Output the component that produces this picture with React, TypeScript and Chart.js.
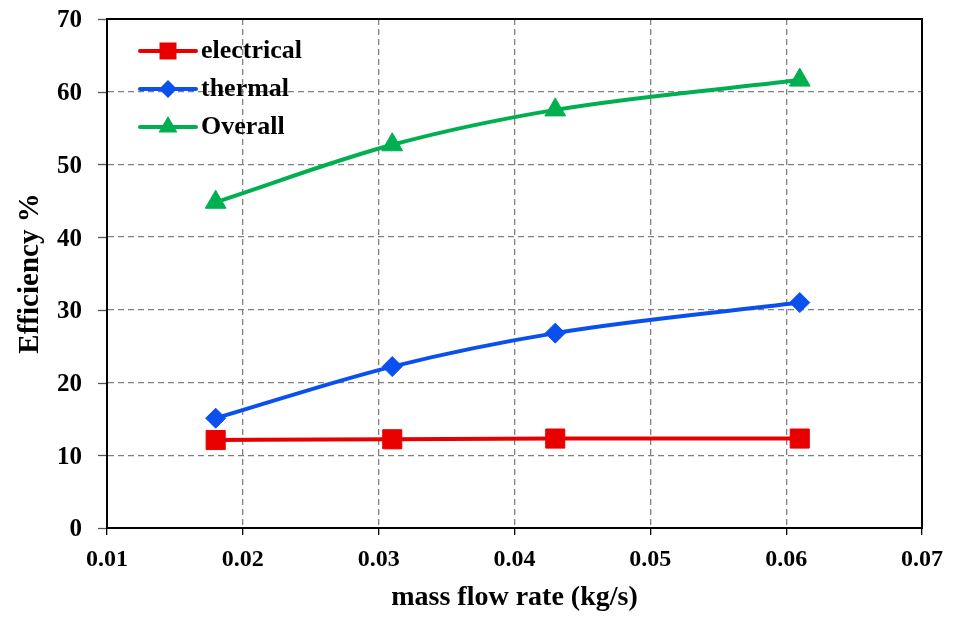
import React, { useEffect, useRef } from "react";
import { Chart, registerables } from "chart.js";

Chart.register(...registerables);

const flowRates = [0.018, 0.031, 0.043, 0.061];
const electrical = [12.1, 12.2, 12.3, 12.3];
const thermal = [15.1, 22.2, 26.8, 31.0];
const overall = [44.8, 52.7, 57.5, 61.6];
const seriesNames = ["electrical", "thermal", "Overall"];
const seriesColors = ["#E80000", "#0A50EE", "#00B050"];
const seriesMarkers = ["rect", "rectRot", "triangle"];
const markerRadii = [13.5, 10, 12];

const FONT = "'Liberation Serif', 'Times New Roman', serif";

function drawMarker(ctx: CanvasRenderingContext2D, style: string, x: number, y: number, r: number) {
  ctx.beginPath();
  if (style === "rect") {
    const s = Math.SQRT1_2 * r;
    ctx.rect(x - s, y - s, 2 * s, 2 * s);
  } else if (style === "rectRot") {
    ctx.moveTo(x, y - r);
    ctx.lineTo(x + r, y);
    ctx.lineTo(x, y + r);
    ctx.lineTo(x - r, y);
    ctx.closePath();
  } else {
    const a = (2 * Math.PI) / 3;
    ctx.moveTo(x, y - r);
    ctx.lineTo(x + Math.sin(a) * r, y - Math.cos(a) * r);
    ctx.lineTo(x + Math.sin(2 * a) * r, y - Math.cos(2 * a) * r);
    ctx.closePath();
  }
  ctx.fill();
}

const frameAndLegend = {
  id: "frameAndLegend",
  afterDraw(chart: any) {
    const { ctx, chartArea } = chart;
    ctx.save();
    const ys = chart.scales.y;
    ctx.strokeStyle = "#555";
    ctx.lineWidth = 1.3;
    ys.ticks.forEach((t: any) => {
      const py = Math.round(ys.getPixelForValue(t.value)) + 0.5;
      ctx.beginPath();
      ctx.moveTo(chartArea.left - 9, py);
      ctx.lineTo(chartArea.left, py);
      ctx.stroke();
    });
    ctx.strokeStyle = "#000";
    ctx.lineWidth = 2;
    ctx.strokeRect(chartArea.left, chartArea.top, chartArea.right - chartArea.left, chartArea.bottom - chartArea.top);
    const lx = chartArea.left + 33;
    const ly = chartArea.top + 32;
    chart.data.datasets.forEach((ds: any, i: number) => {
      const y = ly + i * 38;
      ctx.strokeStyle = ds.borderColor;
      ctx.lineWidth = 4;
      ctx.lineCap = "round";
      ctx.beginPath();
      ctx.moveTo(lx, y);
      ctx.lineTo(lx + 56, y);
      ctx.stroke();
      ctx.fillStyle = ds.borderColor;
      const pr = i === 0 ? 12 : i === 1 ? 9 : 11;
      drawMarker(ctx, ds.pointStyle, lx + 28, y, pr);
      ctx.fillStyle = "#000";
      ctx.font = `bold 26px ${FONT}`;
      ctx.textBaseline = "middle";
      ctx.textAlign = "left";
      ctx.fillText(ds.label, lx + 61, y);
    });
    ctx.restore();
  },
};

export default function App() {
  const ref = useRef<HTMLCanvasElement>(null);
  useEffect(() => {
    document.body.style.margin = "0";
    const all = [electrical, thermal, overall];
    const chart = new Chart(ref.current!, {
      type: "line",
      data: {
        datasets: all.map((vals, i) => ({
          label: seriesNames[i],
          data: vals.map((v, j) => ({ x: flowRates[j], y: v })),
          borderColor: seriesColors[i],
          backgroundColor: seriesColors[i],
          borderWidth: 4,
          pointStyle: seriesMarkers[i] as any,
          pointRadius: markerRadii[i],
          pointBorderWidth: 1,
          tension: 0.4,
          cubicInterpolationMode: "monotone" as any,
        })),
      },
      options: {
        animation: false,
        responsive: false,
        devicePixelRatio: 1,
        layout: { padding: { left: 0, right: 31, top: 18, bottom: 0 } },
        plugins: { legend: { display: false }, tooltip: { enabled: false } },
        scales: {
          x: {
            type: "linear",
            min: 0.01,
            max: 0.07,
            ticks: {
              stepSize: 0.01,
              color: "#000",
              padding: 10,
              font: { family: FONT, size: 24, weight: "bold" },
              callback: (v: any) => Number(v).toFixed(2),
            },
            grid: { color: "#808080", lineWidth: 1.3, tickLength: 7, tickColor: "#000" },
            border: { color: "#000", width: 2, dash: [6, 4] },
            title: {
              display: true,
              text: "mass flow rate (kg/s)",
              color: "#000",
              font: { family: FONT, size: 28, weight: "bold" },
              padding: { top: 4, bottom: 2 },
            },
            afterFit: (s: any) => {
              s.height = 89;
            },
          },
          y: {
            min: 0,
            max: 70,
            ticks: {
              stepSize: 10,
              color: "#000",
              padding: 4,
              labelOffset: 2,
              font: { family: FONT, size: 25, weight: "bold" },
            },
            grid: { color: "#808080", lineWidth: 1.3, tickLength: 21, tickColor: "rgba(0,0,0,0)" },
            border: { color: "#000", width: 2, dash: [6, 4] },
            title: {
              display: true,
              text: "Efficiency %",
              color: "#000",
              font: { family: FONT, size: 29, weight: "bold" },
              padding: { top: 13, bottom: 4 },
            },
            afterFit: (s: any) => {
              s.width = 107;
            },
          },
        },
      },
      plugins: [frameAndLegend],
    });
    return () => chart.destroy();
  }, []);
  return <canvas ref={ref} width={953} height={617} style={{ display: "block" }} />;
}
